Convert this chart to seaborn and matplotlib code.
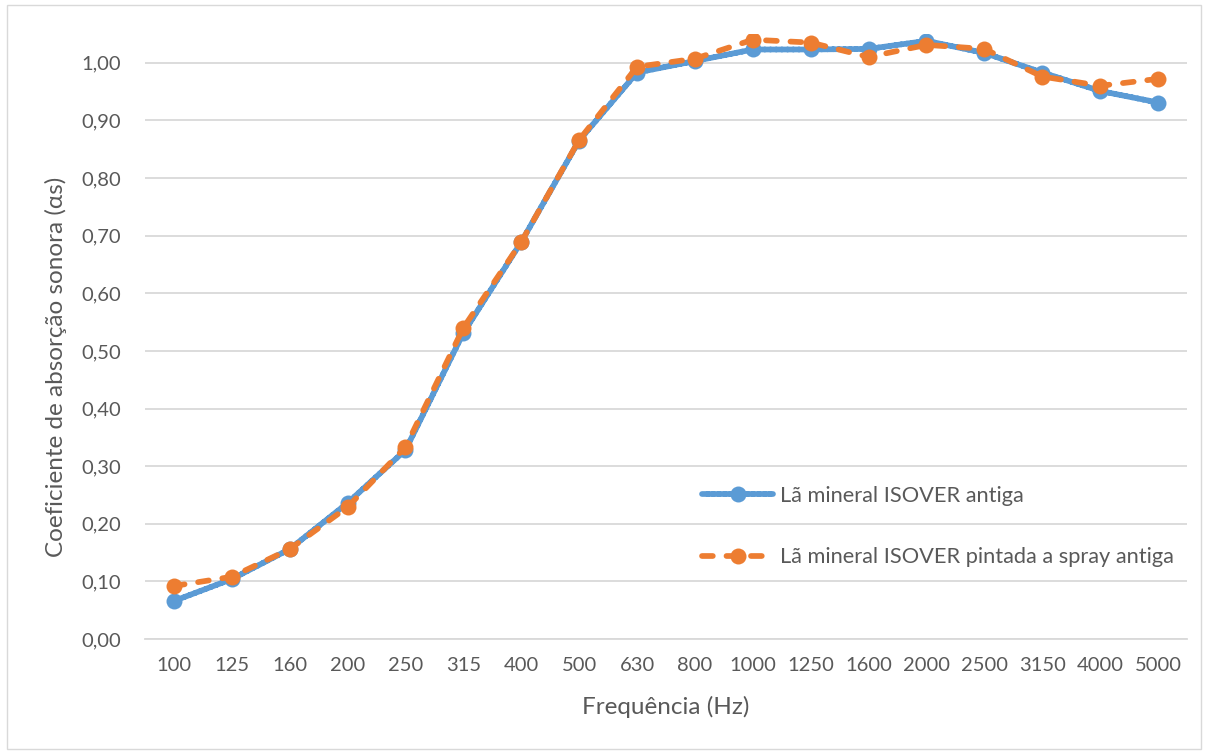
import matplotlib
matplotlib.use("Agg")
import matplotlib.pyplot as plt
import matplotlib.patches as mpatches
from matplotlib.ticker import FixedLocator, FuncFormatter
import seaborn as sns
import pandas as pd

# Third-octave band centre frequencies (Hz)
frequencies = ["100", "125", "160", "200", "250", "315", "400", "500", "630",
               "800", "1000", "1250", "1600", "2000", "2500", "3150", "4000", "5000"]

# Sound absorption coefficient per band
isover_antiga = [0.066, 0.104, 0.156, 0.236, 0.328, 0.531, 0.689, 0.865, 0.983,
                 1.003, 1.023, 1.023, 1.024, 1.038, 1.017, 0.983, 0.951, 0.931]
isover_spray_antiga = [0.092, 0.108, 0.156, 0.229, 0.333, 0.540, 0.689, 0.866, 0.993,
                       1.007, 1.040, 1.035, 1.010, 1.031, 1.024, 0.976, 0.960, 0.972]

series_names = ["Lã mineral ISOVER antiga", "Lã mineral ISOVER pintada a spray antiga"]
series_colors = ["#5B9BD5", "#ED7D31"]

df = pd.DataFrame({
    "Frequência (Hz)": frequencies * 2,
    "alpha": isover_antiga + isover_spray_antiga,
    "Série": [series_names[0]] * len(frequencies) + [series_names[1]] * len(frequencies),
})

sns.set_theme(style="white")
plt.rcParams["font.family"] = ["Lato", "DejaVu Sans"]

text_color = "#595959"
grid_color = "#D9D9D9"

fig = plt.figure(figsize=(12.08, 7.54), dpi=100)
ax = fig.add_axes([0.12, 0.1525, 0.8626, 0.8025])

lw = 4.1
ms = 11.5
sns.lineplot(
    data=df, x="Frequência (Hz)", y="alpha", hue="Série", style="Série",
    palette=series_colors, dashes=[(1, 0), (1.9, 2.4)], markers=["o", "o"],
    markersize=ms, markeredgewidth=0, linewidth=lw, sort=False, ax=ax,
)
for line in ax.get_lines():
    line.set_linewidth(lw)
    line.set_markersize(ms)
    line.set_dash_capstyle("round")
    line.set_solid_capstyle("round")

ax.set_xlim(-0.5, len(frequencies) - 0.5)
ax.set_ylim(0, 1.05)
ax.set_yticks([i / 10 for i in range(11)])
ax.yaxis.set_major_formatter(FuncFormatter(lambda v, p: f"{v:.2f}".replace(".", ",")))

ax.grid(axis="y", color=grid_color, linewidth=1.3)
ax.set_axisbelow(True)
for side in ["top", "right", "left"]:
    ax.spines[side].set_visible(False)
ax.spines["bottom"].set_color(grid_color)
ax.spines["bottom"].set_linewidth(1.3)

# Category boundaries marked with short ticks below the axis
ax.xaxis.set_minor_locator(FixedLocator([i - 0.5 for i in range(len(frequencies) + 1)]))
ax.tick_params(axis="x", which="minor", length=7, width=1.3, color=grid_color, direction="out")
ax.tick_params(axis="x", which="major", length=0, pad=13, labelsize=14.5, labelcolor=text_color)
ax.tick_params(axis="y", which="major", length=0, pad=17, labelsize=14.5, labelcolor=text_color)

ax.set_xlabel("Frequência (Hz)", fontsize=17.5, color=text_color, labelpad=16)
ax.set_ylabel("Coeficiente de absorção sonora (αs)", fontsize=17.5, color=text_color)
ax.yaxis.set_label_coords(-0.075, 0.45)

handles, labels = ax.get_legend_handles_labels()
for h in handles:
    h.set_linewidth(lw)
    h.set_markersize(ms)
    h.set_dash_capstyle("round")
ax.legend(handles, labels, loc="upper left", bbox_to_anchor=(0.565, 0.382),
          bbox_transform=fig.transFigure, frameon=False, fontsize=15.7,
          handlelength=3.25, labelspacing=1.91, handletextpad=0.3, labelcolor=text_color)

fig.add_artist(mpatches.Rectangle((0.006, 0.006), 0.988, 0.988, transform=fig.transFigure,
                                  fill=False, edgecolor=grid_color, linewidth=1.0))

fig.savefig("out.png", dpi=100)
